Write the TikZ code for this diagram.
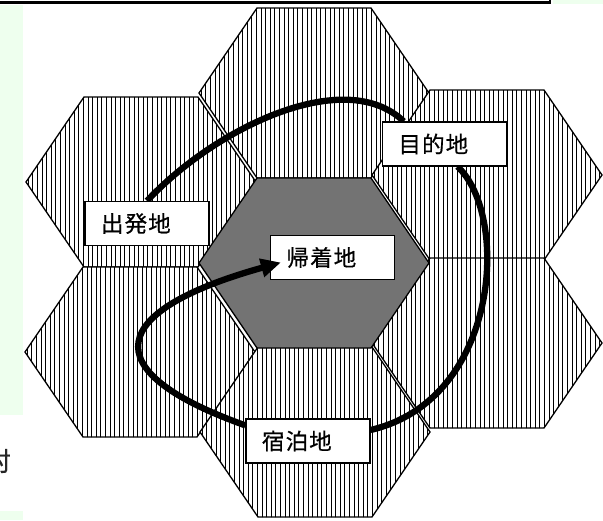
\documentclass[tikz,border=0pt]{standalone}
\usepackage{fontspec}
\newfontfamily\jp{Noto Sans CJK JP}[LetterSpace=5, FakeBold=0.6]
\usetikzlibrary{arrows.meta,calc}
\definecolor{panelgreen}{RGB}{238,255,238}
\definecolor{hexgray}{RGB}{115,115,115}
\pgfdeclarelayer{front}
\pgfsetlayers{main,front}
\tikzset{
  stripe/.style={line width=0.9pt, black},
  hexline/.style={line width=1.3pt, black, line join=miter},
  lab/.style={draw, fill=white, line width=1.2pt, minimum height=44pt,
    text width=92pt, inner xsep=16pt, inner ysep=0pt, align=left,
    font=\jp\fontsize{22.5}{24}\selectfont},
  route/.style={line width=6.3pt, black},
}
\newcommand{\stripehex}[2]{%
  \begin{scope}
    \clip ({#1-115},{#2}) -- ({#1-57},{#2-85}) -- ({#1+57},{#2-85}) -- ({#1+115},{#2}) -- ({#1+57},{#2+85}) -- ({#1-57},{#2+85}) -- cycle;
    \fill[white] ({#1-120},{#2-90}) rectangle ({#1+120},{#2+90});
    \foreach \k in {0,...,51} \draw[stripe] ({#1-117.3+\k*4.6},{#2-90}) -- ++(0,180);
  \end{scope}
  \draw[hexline] ({#1-115},{#2}) -- ({#1-57},{#2-85}) -- ({#1+57},{#2-85}) -- ({#1+115},{#2}) -- ({#1+57},{#2+85}) -- ({#1-57},{#2+85}) -- cycle;
}
\begin{document}
\begin{tikzpicture}[x=1pt,y=-1pt]
\useasboundingbox (0,0) rectangle (603,520);
\fill[white] (0,0) rectangle (603,520);
% side panels and frame remnants
\fill[panelgreen] (0,5) rectangle (23,415);
\fill[panelgreen] (0,511) rectangle (23,520);
\fill[panelgreen] (553,0) rectangle (603,4);
\draw[line width=2.5pt] (0,2.5) -- (550,2.5) -- (550,0);
\node[anchor=east, inner sep=0pt, font=\jp\fontsize{26}{28}\selectfont, text=black!85] (vil) at (11,461) {村};
% hexagons
\stripehex{314}{93}
\stripehex{141}{182}
\stripehex{487}{175}
\stripehex{140}{352}
\stripehex{487}{343}
\stripehex{315}{432}
\draw[hexline, fill=hexgray] (199,263) -- (257,178) -- (371,178) -- (429,263) -- (371,348) -- (257,348) -- cycle;
% labels
\begin{pgfonlayer}{front}
\node[lab] (dep)  at (147,223.5) {出発地};
\node[lab] (dest) at (444.5,144) {目的地};
\node[lab] (home) at (332.5,257.5) {帰着地};
\node[lab] (stay) at (308,441) {宿泊地};
\end{pgfonlayer}
% route
\draw[route] (dep.north) .. controls (215,128) and (345,65) .. (dest.151);
\draw[route] (dest.-60) .. controls (510,215) and (500,400) .. (stay.10);
\begin{pgfonlayer}{front}
\draw[route, -{Triangle[length=20pt,width=18pt]}] (stay.166) .. controls (90,370) and (110,310) .. ($(home.west)+(11,5)$);
\end{pgfonlayer}
\end{tikzpicture}
\end{document}
